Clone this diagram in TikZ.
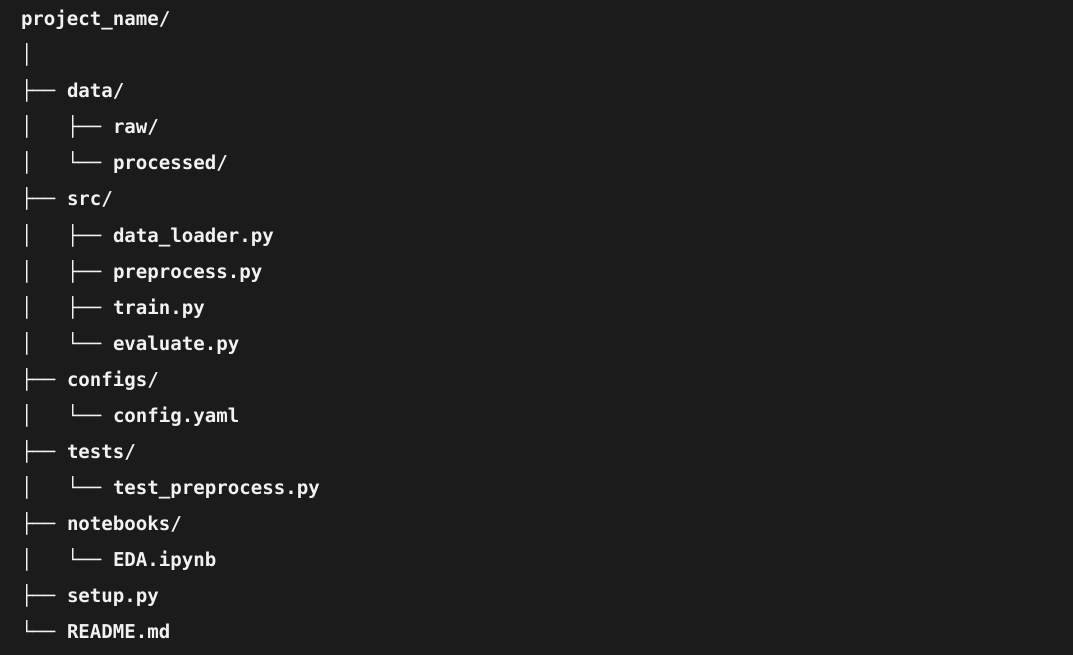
\documentclass[tikz,border=0pt]{standalone}
\usepackage{fontspec}
\setmonofont{DejaVu Sans Mono}
\definecolor{bgc}{RGB}{27,27,27}
\definecolor{fgc}{RGB}{242,242,242}
\newcommand\treeitem[4]{\node[txt] (#1) at ({21+11.5*#2},{26+36*#3}) {#4};}
\begin{document}
\begin{tikzpicture}[x=1pt,y=-1pt,
  txt/.style={anchor=base west, inner sep=0pt, outer sep=0pt, text=fgc,
    font=\fontsize{19.1}{19.1}\selectfont\ttfamily\bfseries}]
\fill[bgc] (0,0) rectangle (1073,655);
\useasboundingbox (0,0) rectangle (1073,655);
% row 0
\treeitem{root}{0}{0}{project\_name/}
% row 1
\treeitem{v1}{0}{1}{│}
% row 2
\treeitem{b2}{0}{2}{├──}
\treeitem{data}{4}{2}{data/}
% row 3
\treeitem{v3}{0}{3}{│}
\treeitem{b3}{4}{3}{├──}
\treeitem{raw}{8}{3}{raw/}
% row 4
\treeitem{v4}{0}{4}{│}
\treeitem{b4}{4}{4}{└──}
\treeitem{processed}{8}{4}{processed/}
% row 5
\treeitem{b5}{0}{5}{├──}
\treeitem{src}{4}{5}{src/}
% rows 6-9
\treeitem{v6}{0}{6}{│}
\treeitem{b6}{4}{6}{├──}
\treeitem{loader}{8}{6}{data\_loader.py}
\treeitem{v7}{0}{7}{│}
\treeitem{b7}{4}{7}{├──}
\treeitem{prep}{8}{7}{preprocess.py}
\treeitem{v8}{0}{8}{│}
\treeitem{b8}{4}{8}{├──}
\treeitem{train}{8}{8}{train.py}
\treeitem{v9}{0}{9}{│}
\treeitem{b9}{4}{9}{└──}
\treeitem{eval}{8}{9}{evaluate.py}
% rows 10-11
\treeitem{b10}{0}{10}{├──}
\treeitem{configs}{4}{10}{configs/}
\treeitem{v11}{0}{11}{│}
\treeitem{b11}{4}{11}{└──}
\treeitem{config}{8}{11}{config.yaml}
% rows 12-13
\treeitem{b12}{0}{12}{├──}
\treeitem{tests}{4}{12}{tests/}
\treeitem{v13}{0}{13}{│}
\treeitem{b13}{4}{13}{└──}
\treeitem{testprep}{8}{13}{test\_preprocess.py}
% rows 14-15
\treeitem{b14}{0}{14}{├──}
\treeitem{notebooks}{4}{14}{notebooks/}
\treeitem{v15}{0}{15}{│}
\treeitem{b15}{4}{15}{└──}
\treeitem{eda}{8}{15}{EDA.ipynb}
% rows 16-17
\treeitem{b16}{0}{16}{├──}
\treeitem{setup}{4}{16}{setup.py}
\treeitem{b17}{0}{17}{└──}
\treeitem{readme}{4}{17}{README.md}
\end{tikzpicture}
\end{document}
